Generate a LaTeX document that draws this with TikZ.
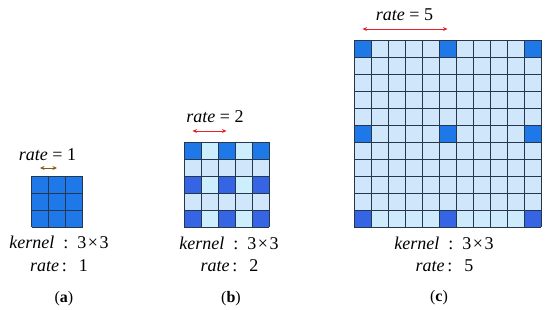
\documentclass[tikz,border=0pt]{standalone}
\usepackage{fontspec}
\setmainfont{Liberation Serif}
\usetikzlibrary{arrows.meta}
\definecolor{kblue}{HTML}{1E78E8}
\definecolor{kindigo}{HTML}{3564E4}
\definecolor{klight}{HTML}{D0E6FA}
\definecolor{kcyan}{HTML}{CDEEFC}
\definecolor{kline}{HTML}{25364F}
\definecolor{kred}{HTML}{E8202A}
\definecolor{kbrown}{HTML}{8A5A10}
\tikzset{
  cellline/.style={draw=kline, line width=0.7pt},
  lbl/.style={font=\fontsize{18}{20}\selectfont, inner sep=0pt, anchor=center},
  captxt/.style={font=\fontsize{16}{18}\selectfont, inner sep=0pt, anchor=center},
  ratearrow/.style={{Stealth[length=4.5pt,width=4pt]}-{Stealth[length=4.5pt,width=4pt]}, line width=0.9pt}
}
\newcommand{\kerneltxt}{\textit{kernel}\hspace{9pt}:\hspace{9pt}3\kern1.5pt×\kern1.5pt3}
\newcommand{\ratetxt}[1]{\textit{rate}\hspace{3pt}:\hspace{12pt}#1}
\begin{document}
\begin{tikzpicture}[x=1pt,y=-1pt]
\path[use as bounding box, fill=white] (0,0) rectangle (550,310);
% ---------- (a) ----------
\fill[kblue] (31.5,176) rectangle (82.5,227);
\foreach \i in {0,...,3}{
  \draw[cellline] (31.5+17*\i,176) -- (31.5+17*\i,227);
  \draw[cellline] (31.5,176+17*\i) -- (82.5,176+17*\i);
}
\node[lbl] (ra) at (47.5,155) {\textit{rate} = 1};
\coordinate (a0) at (40,168);
\coordinate (a1) at (57,168);
\draw[ratearrow, kbrown] (a0) -- (a1);
\node[lbl] (ka) at (59,242) {\kerneltxt};
\node[lbl] (rta) at (59,265.5) {\ratetxt{1}};
\node[captxt] (ca) at (64,299) {(\textbf{a})};
% ---------- (b) ----------
\foreach \r in {0,...,4}{
  \foreach \c in {0,...,4}{
    \pgfmathparse{(mod(\r,2)==0 && mod(\c,2)==0) ? 1 : 0}
    \ifnum\pgfmathresult=1
      \ifnum\r=0 \def\cc{kblue}\else\def\cc{kindigo}\fi
    \else
      \pgfmathparse{(mod(\r,2)==0) ? 1 : 0}
      \ifnum\pgfmathresult=1 \def\cc{kcyan}\else\def\cc{klight}\fi
    \fi
    \fill[\cc] (184+17*\c,142+17*\r) rectangle ++(17,17);
  }
}
\foreach \i in {0,...,5}{
  \draw[cellline] (184+17*\i,142) -- (184+17*\i,227);
  \draw[cellline] (184,142+17*\i) -- (269,142+17*\i);
}
\node[lbl] (rb) at (215,116.5) {\textit{rate} = 2};
\coordinate (b0) at (192.5,131);
\coordinate (b1) at (226.5,131);
\draw[ratearrow, kred] (b0) -- (b1);
\node[lbl] (kb) at (229,243) {\kerneltxt};
\node[lbl] (rtb) at (229.5,265.5) {\ratetxt{2}};
\node[captxt] (cb) at (231,299) {(\textbf{b})};
% ---------- (c) ----------
\fill[klight] (354,40) rectangle (541,227);
\fill[kcyan!60!klight] (354,210) rectangle (541,227);
\foreach \r in {0,5,10}{
  \foreach \c in {0,5,10}{
    \ifnum\r=10 \def\cc{kindigo}\else\def\cc{kblue}\fi
    \fill[\cc] (354+17*\c,40+17*\r) rectangle ++(17,17);
  }
}
\foreach \i in {0,...,11}{
  \draw[cellline] (354+17*\i,40) -- (354+17*\i,227);
  \draw[cellline] (354,40+17*\i) -- (541,40+17*\i);
}
\node[lbl] (rc) at (404.5,15) {\textit{rate} = 5};
\coordinate (c0) at (362.5,29);
\coordinate (c1) at (447.5,29);
\draw[ratearrow, kred] (c0) -- (c1);
\node[lbl] (kc) at (444,243) {\kerneltxt};
\node[lbl] (rtc) at (444.5,265.5) {\ratetxt{5}};
\node[captxt] (cc) at (439,298) {(\textbf{c})};
\end{tikzpicture}
\end{document}
